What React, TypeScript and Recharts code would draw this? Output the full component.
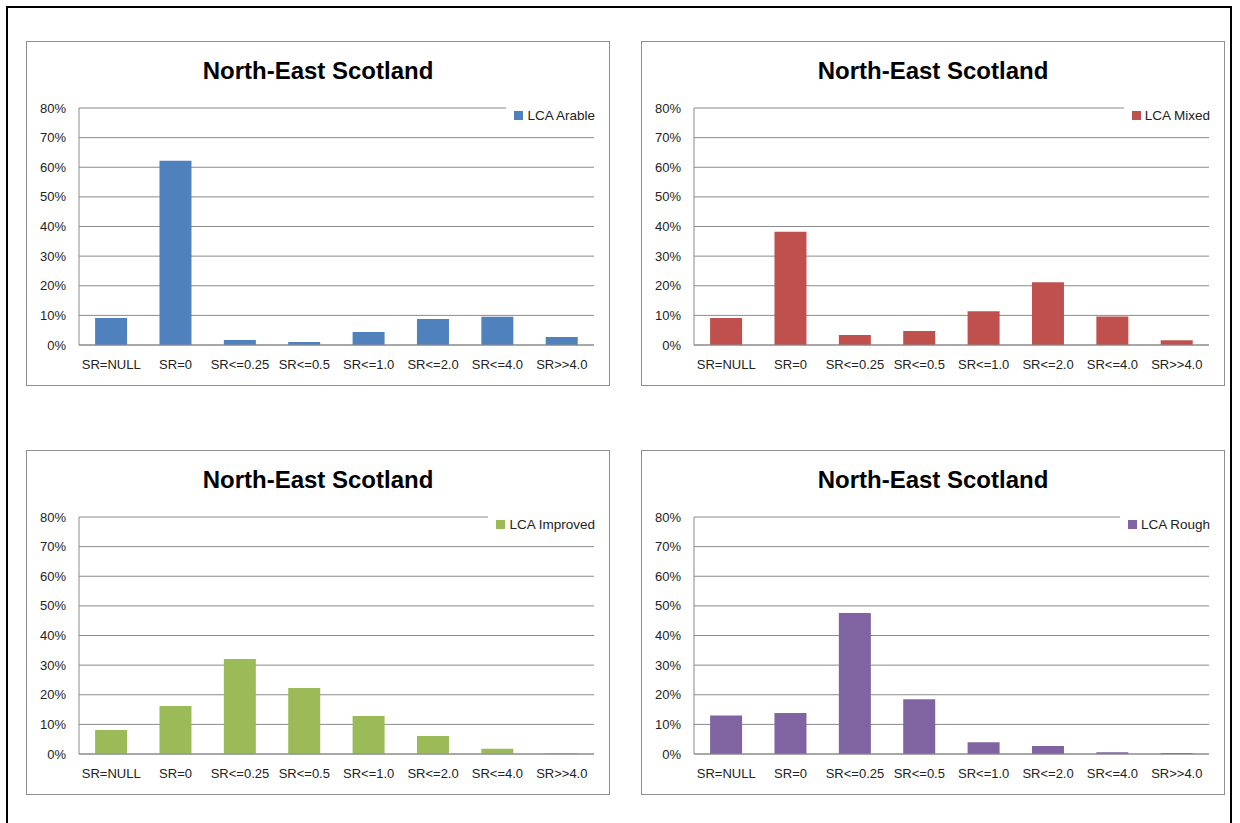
import { BarChart, Bar, XAxis, YAxis, CartesianGrid } from "recharts";

const CATEGORIES = ["SR=NULL", "SR=0", "SR<=0.25", "SR<=0.5", "SR<=1.0", "SR<=2.0", "SR<=4.0", "SR>>4.0"];
const ARABLE = [9.1, 62.2, 1.7, 1.0, 4.4, 8.8, 9.5, 2.7];
const MIXED = [9.1, 38.2, 3.4, 4.7, 11.4, 21.2, 9.6, 1.6];
const IMPROVED = [8.1, 16.2, 32.1, 22.3, 12.8, 6.1, 1.8, 0.3];
const ROUGH = [13.0, 13.8, 47.6, 18.5, 4.0, 2.7, 0.6, 0.3];
const Y_TICKS = [0, 10, 20, 30, 40, 50, 60, 70, 80];

const FONT = "'Liberation Sans', Arial, sans-serif";
const GRID = "#8a8a8a";

interface PanelProps {
  left: number;
  top: number;
  title: string;
  label: string;
  color: string;
  values: number[];
}

function Panel({ left, top, title, label, color, values }: PanelProps) {
  const data = CATEGORIES.map((c, i) => ({ cat: c, value: values[i] }));
  return (
    <div
      style={{
        position: "absolute",
        left,
        top,
        width: 582,
        height: 343,
        border: "1px solid #8e8e8e",
        background: "#fff",
      }}
    >
      <div
        style={{
          position: "absolute",
          left: 0,
          right: 0,
          top: 15,
          textAlign: "center",
          fontFamily: FONT,
          fontWeight: "bold",
          fontSize: 24,
          color: "#000",
        }}
      >
        {title}
      </div>
      <BarChart
        width={582}
        height={343}
        data={data}
        margin={{ top: 66, right: 15, bottom: 0, left: 0 }}
        barCategoryGap="25%"
      >
        <CartesianGrid vertical={false} stroke={GRID} strokeWidth={1} />
        <XAxis
          dataKey="cat"
          height={40}
          interval={0}
          tickLine={false}
          tickSize={0}
          tickMargin={15}
          stroke={GRID}
          tick={{ fontSize: 13, fill: "#222", fontFamily: FONT }}
        />
        <YAxis
          width={52}
          domain={[0, 80]}
          ticks={Y_TICKS}
          tickFormatter={(v) => `${v}%`}
          tickLine={false}
          tickSize={0}
          tickMargin={13}
          stroke={GRID}
          tick={{ fontSize: 13, fill: "#222", fontFamily: FONT }}
        />
        <Bar dataKey="value" fill={color} isAnimationActive={false} />
      </BarChart>
      <div
        style={{
          position: "absolute",
          right: 12,
          top: 62,
          height: 22,
          padding: "0 2px 0 8px",
          background: "#fff",
          display: "flex",
          alignItems: "center",
          fontFamily: FONT,
          fontSize: 13.5,
          color: "#222",
        }}
      >
        <span style={{ display: "inline-block", width: 9, height: 9, background: color, marginRight: 4 }} />
        {label}
      </div>
    </div>
  );
}

export default function App() {
  return (
    <div style={{ position: "fixed", left: 0, top: 0, width: 1240, height: 823, overflow: "hidden", background: "#fff" }}>
      <div
        style={{
          position: "absolute",
          left: 6,
          top: 6,
          width: 1222,
          height: 900,
          border: "2px solid #000",
        }}
      />
      <Panel left={26} top={41} title="North-East Scotland" label="LCA Arable" color="#4F81BD" values={ARABLE} />
      <Panel left={641} top={41} title="North-East Scotland" label="LCA Mixed" color="#C0504D" values={MIXED} />
      <Panel left={26} top={450} title="North-East Scotland" label="LCA Improved" color="#9BBB59" values={IMPROVED} />
      <Panel left={641} top={450} title="North-East Scotland" label="LCA Rough" color="#8064A2" values={ROUGH} />
    </div>
  );
}
